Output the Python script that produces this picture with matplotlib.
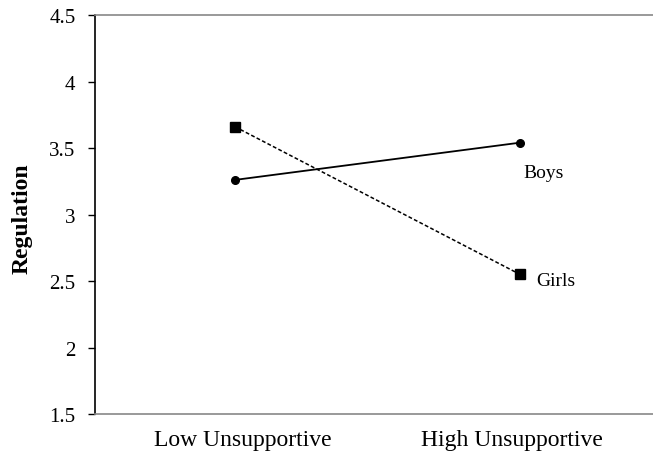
import matplotlib.pyplot as plt
from matplotlib.transforms import ScaledTranslation

# data
categories = ["Low Unsupportive", "High Unsupportive"]
boys = [3.26, 3.54]
girls = [3.66, 2.55]
y_ticks = [1.5, 2, 2.5, 3, 3.5, 4, 4.5]
y_tick_labels = ["1.5", "2", "2.5", "3", "3.5", "4", "4.5"]

plt.rcParams["font.family"] = ["Liberation Serif", "DejaVu Serif"]

fig = plt.figure(figsize=(6.53, 4.56), dpi=100)
ax = fig.add_axes([95 / 653, 41 / 456, 558 / 653, 399 / 456])

x = range(len(categories))
ax.plot(x, boys, "-", color="black", lw=1.3, marker="o", ms=5.5)
ax.plot(x, girls, color="black", lw=1.1, ls=(0, (2.5, 1.5)), marker="s", ms=7)

ax.text(1.0105, 3.282, "Boys", fontsize=14, va="baseline", ha="left")
ax.text(1.056, 2.47, "Girls", fontsize=14, va="baseline", ha="left")

ax.set_xlim(-0.491, 1.467)
ax.set_ylim(1.5, 4.5)
ax.set_yticks(y_ticks)
ax.set_yticklabels(y_tick_labels, fontsize=15)
ax.set_xticks(list(x))
ax.set_xticklabels(categories, fontsize=17)
ax.tick_params(axis="x", length=0, pad=11)
ax.tick_params(axis="y", direction="out", length=5, width=1, pad=9)

# excel centres the category labels slightly inward
for lbl, dx in zip(ax.get_xticklabels(), [0.08, -0.08]):
    lbl.set_transform(lbl.get_transform() + ScaledTranslation(dx, 0, fig.dpi_scale_trans))

# excel-like frame: black left axis, grey top/bottom lines, no right
ax.spines.right.set_visible(False)
ax.spines.left.set_color("black")
ax.spines.left.set_linewidth(1.2)
for side in ("top", "bottom"):
    ax.spines[side].set_color("#888888")
    ax.spines[side].set_linewidth(1.2)

ax.set_ylabel("Regulation", fontsize=17, fontweight="bold")
ax.yaxis.set_label_coords(-0.111, 0.491)

fig.savefig("out.png", dpi=100)
